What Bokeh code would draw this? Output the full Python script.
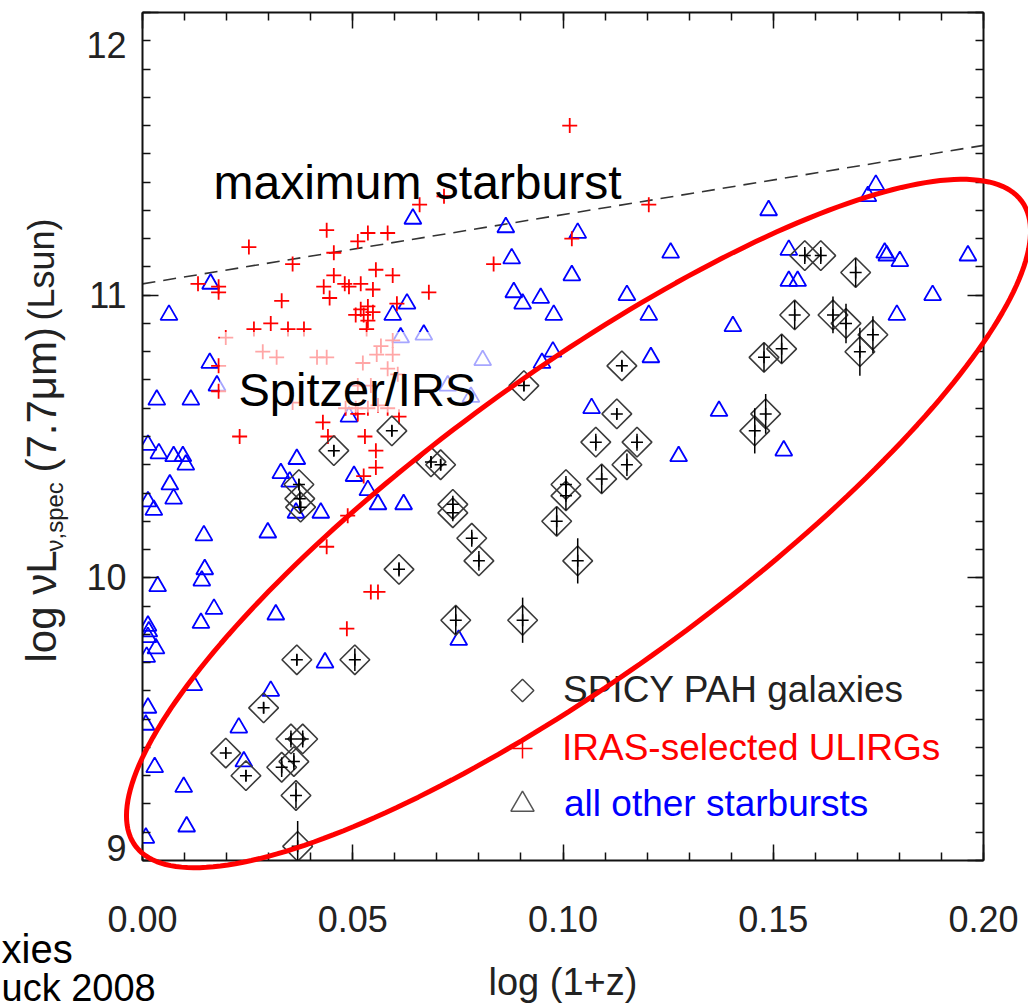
import math
import numpy as np
from bokeh.plotting import figure
from bokeh.layouts import column
from bokeh.models import (Range1d, LinearAxis, SingleIntervalTicker, NumeralTickFormatter,
                          CustomJSTickFormatter, Label, BoxAnnotation, Legend, LegendItem)
from bokeh.embed import file_html
from bokeh.resources import INLINE

# ---------------- data ----------------
# SPICY PAH galaxies: log(1+z), log nuL_nu(7.7um), 1-sigma error
spicy_x = [0.0593, 0.0455, 0.0372, 0.0374, 0.0376, 0.0686, 0.0709, 0.0738, 0.0738, 0.0783,
           0.0800, 0.0610, 0.0745, 0.0904, 0.0367, 0.0505, 0.0288, 0.0353, 0.0381, 0.0198,
           0.0360, 0.0331, 0.0246, 0.0365, 0.0369, 0.0907, 0.1140, 0.1128, 0.1078, 0.1176,
           0.1007, 0.1007, 0.1092, 0.1152, 0.0985, 0.1035, 0.1575, 0.1613, 0.1696, 0.1551,
           0.1642, 0.1673, 0.1737, 0.1706, 0.1520, 0.1478, 0.1482, 0.1456]
spicy_y = [10.52, 10.45, 10.33, 10.28, 10.25, 10.41, 10.40, 10.26, 10.23, 10.14,
           10.06, 10.03, 9.85, 9.85, 9.71, 9.71, 9.54, 9.43, 9.43, 9.38,
           9.35, 9.33, 9.30, 9.23, 9.05, 10.68, 10.75, 10.58, 10.48, 10.48,
           10.33, 10.29, 10.35, 10.40, 10.20, 10.06, 11.14, 11.14, 11.08, 10.93,
           10.93, 10.90, 10.86, 10.80, 10.81, 10.78, 10.58, 10.52]
spicy_err = [0.02, 0.02, 0.02, 0.03, 0.02, 0.02, 0.02, 0.03, 0.03, 0.03,
             0.035, 0.025, 0.05, 0.08, 0.02, 0.04, 0.02, 0.03, 0.03, 0.02,
             0.03, 0.035, 0.02, 0.045, 0.09, 0.02, 0.02, 0.02, 0.03, 0.03,
             0.03, 0.05, 0.05, 0.04, 0.05, 0.08, 0.03, 0.03, 0.05, 0.05,
             0.065, 0.07, 0.065, 0.085, 0.05, 0.05, 0.07, 0.08]

# IRAS-selected ULIRGs
ulirg_x = [0.1016, 0.0717, 0.0659, 0.1204, 0.0438, 0.0536, 0.0583, 0.0512, 0.1021, 0.0253,
           0.0455, 0.0835, 0.0357, 0.0555, 0.0595, 0.0455, 0.0132, 0.0181, 0.0181, 0.0431,
           0.0481, 0.0491, 0.0519, 0.0548, 0.0681, 0.0445, 0.0331, 0.0605, 0.0519, 0.0536,
           0.0507, 0.0526, 0.0548, 0.0536, 0.0533, 0.0265, 0.0305, 0.0346, 0.0384,
           0.0198, 0.0181, 0.0181, 0.0286, 0.0319, 0.0415, 0.0438, 0.0357, 0.0567, 0.0595,
           0.0557, 0.0595, 0.0512, 0.0543, 0.0583, 0.0607, 0.0483, 0.0507, 0.0536, 0.0560,
           0.0583, 0.0524,
           0.0429, 0.0512, 0.0610, 0.0231, 0.0441, 0.0529, 0.0555, 0.0555, 0.0526, 0.0488,
           0.0438, 0.0543, 0.0560, 0.0486]
ulirg_y = [11.60, 11.35, 11.32, 11.32, 11.23, 11.22, 11.22, 11.19, 11.20, 11.17,
           11.15, 11.11, 11.11, 11.09, 11.07, 11.07, 11.04, 11.03, 11.01, 11.03,
           11.04, 11.03, 11.04, 11.02, 11.01, 10.99, 10.98, 10.97, 10.95, 10.96,
           10.93, 10.93, 10.94, 10.91, 10.88, 10.88, 10.90, 10.88, 10.88,
           10.85, 10.75, 10.66, 10.80, 10.78, 10.78, 10.78, 10.62, 10.82, 10.84,
           10.79, 10.79, 10.68, 10.68, 10.74, 10.72, 10.60, 10.60, 10.60, 10.61,
           10.60, 10.76,
           10.55, 10.58, 10.57, 10.50, 10.50, 10.50, 10.45, 10.39, 10.36, 10.22,
           10.11, 9.95, 9.95, 9.82]

# all other starbursts
sb_x = [0.0643, 0.0162, 0.0063, 0.0595, 0.0629, 0.0614, 0.0669, 0.0160, 0.0177, 0.0034,
        0.0115, 0.0491, 0.0809, 0.0726, 0.0781, 0.0864, 0.1035, 0.0878, 0.1021, 0.0883,
        0.0904, 0.0947, 0.0978, 0.1152, 0.1204, 0.1256, 0.0976, 0.0950, 0.1068, 0.1209,
        0.1489, 0.1744, 0.1725, 0.1537, 0.1765, 0.1770, 0.1801, 0.1963, 0.1537, 0.1558,
        0.1404, 0.1879, 0.1794, 0.1371, 0.1275, 0.1525, 0.0013, 0.0039, 0.0074, 0.0096,
        0.0103, 0.0065, 0.0074, 0.0013, 0.0027, 0.0146, 0.0148, 0.0141, 0.0036, 0.0170,
        0.0139, 0.0013, 0.0015, 0.0013, 0.0032, 0.0010, 0.0122, 0.0317, 0.0298, 0.0367,
        0.0329, 0.0350, 0.0365, 0.0424, 0.0503, 0.0536, 0.0560, 0.0621, 0.0434, 0.0305,
        0.0013, 0.0008, 0.0229, 0.0241, 0.0029, 0.0098, 0.0105, 0.0008, 0.0752]
sb_y = [11.27, 11.04, 10.93, 10.93, 10.97, 10.85, 10.86, 10.76, 10.68, 10.63,
        10.63, 10.57, 10.77, 10.68, 10.64, 11.24, 11.22, 11.13, 11.07, 11.01,
        10.97, 10.99, 10.93, 11.00, 10.93, 11.15, 10.80, 10.76, 10.60, 10.78,
        11.30, 11.39, 11.35, 11.16, 11.15, 11.14, 11.12, 11.14, 11.05, 11.05,
        10.89, 11.00, 10.93, 10.59, 10.43, 10.45, 10.47, 10.44, 10.43, 10.43,
        10.40, 10.33, 10.28, 10.27, 10.24, 10.15, 10.03, 9.99, 9.97, 9.89,
        9.84, 9.83, 9.81, 9.79, 9.75, 9.72, 9.62, 9.87, 10.16, 10.42,
        10.37, 10.34, 10.23, 10.23, 10.36, 10.31, 10.26, 10.26, 9.70, 9.60,
        9.54, 9.48, 9.47, 9.35, 9.33, 9.26, 9.12, 9.08, 9.78]

# "maximum starburst" limit line
maxsb_x = [0.0, 0.2]
maxsb_y = [11.04, 11.53]

x_tick_step = 0.05
y_tick_step = 1
# IDL pushes the end labels inside the box
y_tick_label_overrides = {12: "\n12", 9: "9\n"}

# ---------------- layout / style constants ----------------
FONT = "Liberation Sans"
W, H = 1028, 1005
X_RANGE = (0.0, 0.2)
Y_RANGE = (9.0, 12.0)

p = figure(width=W, height=H, output_backend="svg", toolbar_location=None,
           x_range=Range1d(*X_RANGE), y_range=Range1d(*Y_RANGE),
           min_border_left=142, min_border_right=45, min_border_top=12, min_border_bottom=145,
           x_axis_location=None, y_axis_location=None)
p.grid.visible = False
p.outline_line_color = None
p.background_fill_color = "white"
p.border_fill_color = "white"


def style_axis(ax, interval, nminor):
    ax.ticker = SingleIntervalTicker(interval=interval, num_minor_ticks=nminor)
    ax.axis_line_color = "#111111"
    ax.axis_line_width = 2
    ax.major_tick_in = 16
    ax.major_tick_out = 0
    ax.minor_tick_in = 8
    ax.minor_tick_out = 0
    ax.major_tick_line_color = "#111111"
    ax.minor_tick_line_color = "#111111"
    ax.major_tick_line_width = 1.5
    ax.minor_tick_line_width = 1.5


blank = CustomJSTickFormatter(code="return ''")

bottom = LinearAxis(formatter=NumeralTickFormatter(format="0.00"), axis_label="log (1+z)")
style_axis(bottom, x_tick_step, 5)
bottom.major_label_text_font = FONT
bottom.major_label_text_font_size = "36px"
bottom.major_label_text_color = "#222222"
bottom.major_label_standoff = 45
bottom.axis_label_text_font = FONT
bottom.axis_label_text_font_size = "38px"
bottom.axis_label_text_font_style = "normal"
bottom.axis_label_text_color = "#222222"
bottom.axis_label_standoff = 26
p.add_layout(bottom, "below")

top = LinearAxis(formatter=blank)
style_axis(top, x_tick_step, 5)
top.major_label_text_font_size = "0px"
top.major_label_standoff = 0
p.add_layout(top, "above")

left = LinearAxis()
style_axis(left, y_tick_step, 10)
left.major_label_overrides = y_tick_label_overrides
left.major_label_text_font = FONT
left.major_label_text_font_size = "36px"
left.major_label_text_line_height = 0.6
left.major_label_text_color = "#222222"
left.major_label_standoff = 16
p.add_layout(left, "left")

right = LinearAxis(formatter=blank)
style_axis(right, y_tick_step, 10)
right.major_label_text_font_size = "0px"
right.major_label_standoff = 0
p.add_layout(right, "right")

# ---------------- data glyphs ----------------
p.line(maxsb_x, maxsb_y, line_color="#333333", line_width=1.6, line_dash="13 8")

p.scatter(sb_x, sb_y, marker="triangle", size=17, fill_color=None,
          line_color="#0000ff", line_width=1.8)
p.scatter(ulirg_x, ulirg_y, marker="cross", size=15, line_color="#ff0000", line_width=1.8)

sx = np.array(spicy_x)
sy = np.array(spicy_y)
se = np.array(spicy_err)
p.scatter(sx, sy, marker="square", angle=math.pi / 4, size=21, fill_color=None,
          line_color="#3a3a3a", line_width=1.6)
p.segment(x0=sx, y0=sy - se, x1=sx, y1=sy + se, line_color="black", line_width=1.5)
p.scatter(sx, sy, marker="cross", size=12, line_color="black", line_width=1.5)

# ---------------- in-frame annotations ----------------
p.add_layout(BoxAnnotation(left=0.0184, right=0.0845, bottom=10.585, top=10.87,
                           fill_color="white", fill_alpha=0.65, line_alpha=0))
p.add_layout(Label(x=96, y=471, x_units="screen", y_units="screen", text="Spitzer/IRS",
                   text_font=FONT, text_font_size="47px", text_color="black",
                   text_baseline="alphabetic"))
p.add_layout(Label(x=71, y=678, x_units="screen", y_units="screen", text="maximum starburst",
                   text_font=FONT, text_font_size="48px", text_color="black",
                   text_baseline="alphabetic"))

# legend: three single-entry legends so each label keeps its own colour
NAN = [float("nan")]
r_leg_d = p.scatter(x=NAN, y=NAN, marker="square", fill_color=None, line_alpha=0)
r_leg_p = p.scatter(x=NAN, y=NAN, marker="cross", line_color="#ff0000", line_width=1.5)
r_leg_t = p.scatter(x=NAN, y=NAN, marker="triangle", fill_color=None,
                    line_color="#555555", line_width=1.5)
for rend, lab, col, g, loc, stand in [(r_leg_d, "SPICY PAH galaxies", "#222222", 44, (358, 148), 19),
                                      (r_leg_p, "IRAS-selected ULIRGs", "#ff0000", 50, (355, 87), 15),
                                      (r_leg_t, "all other starbursts", "#0000ff", 58, (351, 27), 13)]:
    lg = Legend(items=[LegendItem(label=lab, renderers=[rend])], location=loc,
                glyph_width=g, glyph_height=g, label_height=g, label_standoff=stand,
                label_text_font=FONT, label_text_font_size="37px", label_text_color=col,
                padding=0, margin=0, spacing=0, border_line_alpha=0,
                background_fill_alpha=0)
    p.add_layout(lg)

# ---------------- transparent overlay in page pixels (slide decorations) ----------------
ov = figure(frame_width=W, frame_height=H, output_backend="svg", toolbar_location=None,
            x_range=Range1d(0, W), y_range=Range1d(H, 0), min_border=0,
            x_axis_location=None, y_axis_location=None)
for fig in (p, ov):
    if "frame_align" in fig.properties():
        fig.frame_align = False
ov.grid.visible = False
ov.outline_line_color = None
ov.background_fill_color = None
ov.border_fill_color = None
ov.margin = (-H, 0, 0, 0)

# y-axis title (rotated, with subscript)
for txt, xx, yy, fs in [("log \u03bdL", 41, 662, "42px"),
                        ("\u03bd,spec", 54, 551, "24px"),
                        ("(7.7\u03bcm)", 41, 472, "42px"),
                        ("(Lsun)", 41, 320, "36px")]:
    ov.add_layout(Label(x=xx, y=yy, text=txt, angle=math.pi / 2, text_align="left",
                        text_baseline="alphabetic", text_font=FONT, text_font_size=fs,
                        text_color="#222222"))

# legend key for the SPICY entry (a square diamond, as in the original)
ov.scatter(x=[522], y=[690], marker="square", angle=math.pi / 4, size=16,
           fill_color=None, line_color="#444444", line_width=1.5)

# hand-drawn red ellipse around the SPICY galaxies
E_CX, E_CY = 578.0, 523.0
E_A, E_B, E_TILT = 548.0, 150.0, math.radians(36)
t = np.linspace(0, 2 * np.pi, 240)
ex = E_CX + E_A * np.cos(t) * math.cos(E_TILT) - E_B * np.sin(t) * math.sin(E_TILT)
ey = E_CY - (E_A * np.cos(t) * math.sin(E_TILT) + E_B * np.sin(t) * math.cos(E_TILT))
ov.patch(ex, ey, fill_color=None, line_color="#ff0000", line_width=5)

# fragments of slide text at the left edge
ov.add_layout(Label(x=1, y=948, text="xies", text_font=FONT, text_font_size="40px",
                    text_color="black", text_baseline="alphabetic"))
ov.add_layout(Label(x=1, y=987, text="uck 2008", text_font=FONT, text_font_size="38px",
                    text_color="black", text_baseline="alphabetic"))

layout = column(p, ov, spacing=0)
open("out.html", "w").write(file_html(layout, INLINE))
